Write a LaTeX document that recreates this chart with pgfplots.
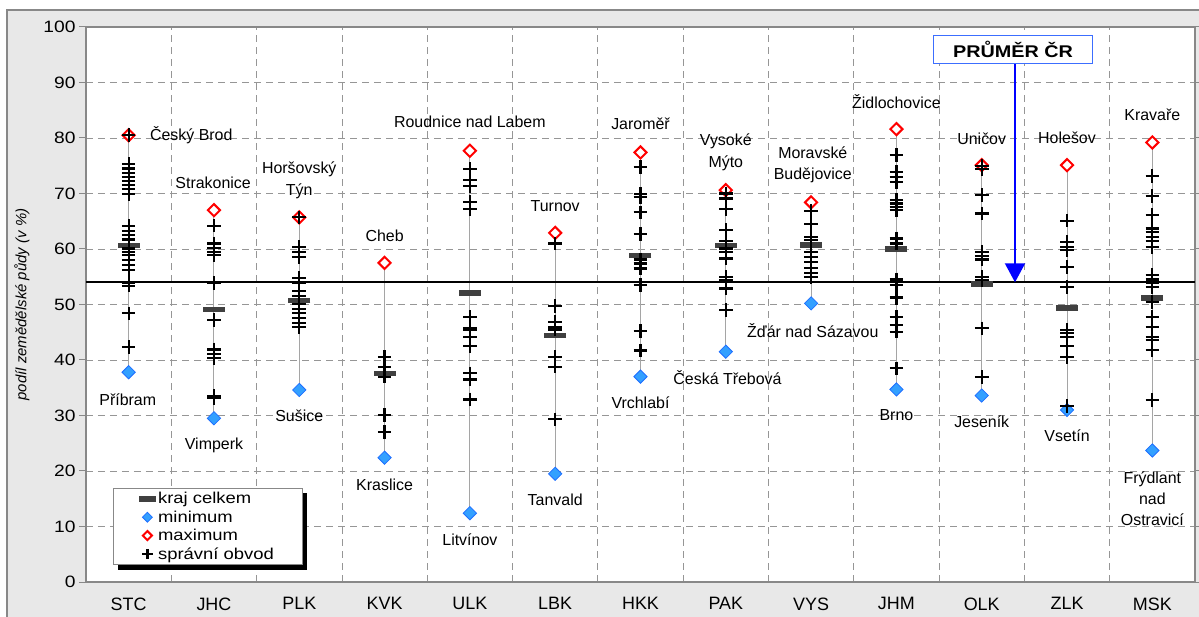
\documentclass[border=0pt]{standalone}
\usepackage{pgfplots}
\pgfplotsset{compat=1.18}
\usepackage{pgfplotstable}
\usepackage{fontspec}
\setmainfont{Liberation Sans}
\newfontfamily\widefont{Liberation Sans}[FakeStretch=1.17]
\usetikzlibrary{arrows.meta,shadows}

\definecolor{bgfig}{RGB}{232,232,232}
\definecolor{framec}{RGB}{136,136,136}
\definecolor{gridc}{RGB}{150,150,150}
\definecolor{krajc}{RGB}{64,64,64}
\definecolor{minfill}{RGB}{51,160,255}
\definecolor{mindraw}{RGB}{30,110,255}
\definecolor{rangec}{RGB}{165,165,165}
\definecolor{boxc}{RGB}{60,110,255}

% kraj celkem, minimum, maximum per region
\pgfplotstableread{
x  kraj  min   max
1  60.6  37.8  80.5
2  49.1  29.5  67.0
3  50.7  34.6  65.7
4  37.6  22.4  57.5
5  52.1  12.4  77.7
6  44.4  19.5  62.9
7  58.8  37.0  77.4
8  60.6  41.5  70.6
9  60.7  50.2  68.4
10 60.0  34.7  81.6
11 53.7  33.6  75.1
12 49.4  31.0  75.1
13 51.2  23.7  79.2
}\regions

% spravni obvody
\pgfplotstableread{
x y
1 80.5
1 75.3
1 74.5
1 73.7
1 73.0
1 72.3
1 71.5
1 70.8
1 69.9
1 64.1
1 63.3
1 62.5
1 61.7
1 60.1
1 59.5
1 58.9
1 58.0
1 57.1
1 56.2
1 53.9
1 53.4
1 48.4
1 42.3
2 64.2
2 61.0
2 60.2
2 59.5
2 58.9
2 53.9
2 47.2
2 41.9
2 41.1
2 40.3
2 33.5
2 33.1
3 65.7
3 60.4
3 59.5
3 58.6
3 54.8
3 53.9
3 52.5
3 51.5
3 50.1
3 49.2
3 48.4
3 47.5
3 46.7
3 45.9
4 40.5
4 38.7
4 37.0
4 30.1
4 27.0
5 74.4
5 72.4
5 71.4
5 68.5
5 67.2
5 47.7
5 45.7
5 45.4
5 44.1
5 42.5
5 37.6
5 36.5
5 32.9
6 61.0
6 49.7
6 46.9
6 46.0
6 45.5
6 40.5
6 38.8
6 29.3
7 74.8
7 69.9
7 69.3
7 66.6
7 62.7
7 58.1
7 57.4
7 56.5
7 53.5
7 45.2
7 41.7
8 70.0
8 69.1
8 67.2
8 63.4
8 61.5
8 60.1
8 59.5
8 58.3
8 55.0
8 54.4
8 52.9
8 49.0
9 66.8
9 64.5
9 62.2
9 61.6
9 59.4
9 58.5
9 57.7
9 56.6
9 55.7
9 55.0
10 76.9
10 73.9
10 73.0
10 72.1
10 68.9
10 68.2
10 67.6
10 67.0
10 61.9
10 61.0
10 54.5
10 53.5
10 51.4
10 51.1
10 47.8
10 46.3
10 45.1
10 38.5
11 75.0
11 74.4
11 69.7
11 66.4
11 59.5
11 58.7
11 58.1
11 55.0
11 54.4
11 45.7
11 36.9
12 65.1
12 61.3
12 60.4
12 59.8
12 56.8
12 53.1
12 45.4
12 44.8
12 44.2
12 42.5
12 40.5
12 31.7
13 73.2
13 69.5
13 66.1
13 63.7
13 63.0
13 62.2
13 61.4
13 60.4
13 55.3
13 54.5
13 53.9
13 53.1
13 50.4
13 47.8
13 46.0
13 44.2
13 43.6
13 41.8
13 32.8
}\pluses

\begin{document}
\begin{tikzpicture}
\path[use as bounding box] (-86bp,-35bp) rectangle (1113bp,582bp);
\fill[white] (-86bp,-35bp) rectangle (1113bp,582bp);
\filldraw[fill=bgfig, draw=framec, line width=1.5bp] (-79bp,-60bp) rectangle (1140bp,572bp);
\begin{axis}[
  scale only axis, width=1109bp, height=555bp,
  xmin=0.5, xmax=13.5, ymin=0, ymax=100,
  axis background/.style={fill=white},
  axis line style={framec, line width=1.5bp},
  xtick={1,...,13},
  xticklabels={STC,JHC,PLK,KVK,ULK,LBK,HKK,PAK,VYS,JHM,OLK,ZLK,MSK},
  major x tick style={draw=none},
  minor xtick={1.5,2.5,...,12.5},
  minor x tick style={draw=none},
  xminorgrids, ymajorgrids,
  grid style={gridc, dash pattern=on 7bp off 5bp, line width=0.8bp},
  ytick={0,10,...,100},
  y tick style={framec, line width=1bp},
  tick align=outside, major tick length=7bp,
  /pgf/number format/assume math mode=true,
  xticklabel style={font=\fontsize{18}{20}\selectfont, yshift=-5bp},
  yticklabel style={font=\widefont\fontsize{16.5}{18}\selectfont},
  ylabel={podíl zemědělské půdy (v \%)},
  every axis y label/.style={at={(axis description cs:-0.0577,0.5)}, rotate=90, anchor=center,
    font=\itshape\fontsize{15}{17}\selectfont},
  legend style={at={(0.0243,0.169)}, anchor=north west, draw=framec, fill=white,
    font=\widefont\fontsize{15.8}{16}\selectfont, row sep=0.5bp,
    inner xsep=26bp, inner ysep=1.5bp, nodes={inner sep=0.25em},
    drop shadow={shadow xshift=5bp, shadow yshift=-5bp, fill=black, opacity=1}},
  legend cell align=left,
  legend image code/.code={\draw[#1] plot coordinates {(0.25cm,0cm)};},
  legend image post style={every mark/.append style={scale=0.75}},
  clip=false,
]
% range lines min-max
\addplot[rangec, line width=1bp, forget plot, unbounded coords=jump] coordinates {
 (1,37.8) (1,80.5) (1,nan)
 (2,29.5) (2,67.0) (2,nan)
 (3,34.6) (3,65.7) (3,nan)
 (4,22.4) (4,57.5) (4,nan)
 (5,12.4) (5,77.7) (5,nan)
 (6,19.5) (6,62.9) (6,nan)
 (7,37.0) (7,77.4) (7,nan)
 (8,41.5) (8,70.6) (8,nan)
 (9,50.2) (9,68.4) (9,nan)
 (10,34.7) (10,81.6) (10,nan)
 (11,33.6) (11,75.1) (11,nan)
 (12,31.0) (12,75.1) (12,nan)
 (13,23.7) (13,79.2)
};
% prumer CR
\addplot[black, line width=2bp, forget plot] coordinates {(0.5,54) (13.5,54)};

\addplot[only marks, mark=-, mark size=11bp, mark options={krajc, line width=5.5bp}]
  table[x=x, y=kraj] {\regions};
\addplot[only marks, mark=square*, mark size=4.7bp,
  mark options={rotate=45, fill=minfill, draw=mindraw, line width=0.8bp}]
  table[x=x, y=min] {\regions};
\addplot[only marks, mark=square*, mark size=4.3bp,
  mark options={rotate=45, fill=white, draw=red, line width=2bp}]
  table[x=x, y=max] {\regions};
\addplot[only marks, mark=+, mark size=6.8bp, mark options={black, line width=2.2bp}]
  table[x=x, y=y] {\pluses};
\legend{kraj celkem, minimum, maximum, správní obvod}

\begin{scope}[every node/.style={font=\fontsize{16}{21.5}\selectfont, align=center}]
\node[anchor=west] at (axis cs:1.21,80.5) {Český Brod};
\node at (axis cs:0.99,32.8) {Příbram};
\node at (axis cs:1.99,71.9) {Strakonice};
\node at (axis cs:2.0,24.7) {Vimperk};
\node at (axis cs:3.0,72.4) {Horšovský\\Týn};
\node at (axis cs:3.0,29.9) {Sušice};
\node at (axis cs:4.0,62.3) {Cheb};
\node at (axis cs:4.0,17.5) {Kraslice};
\node at (axis cs:5.0,82.9) {Roudnice nad Labem};
\node at (axis cs:5.0,7.6) {Litvínov};
\node at (axis cs:6.0,67.7) {Turnov};
\node at (axis cs:6.0,14.8) {Tanvald};
\node at (axis cs:7.0,82.5) {Jaroměř};
\node at (axis cs:7.0,32.3) {Vrchlabí};
\node at (axis cs:8.02,36.8) {Česká Třebová};
\node at (axis cs:8.0,77.4) {Vysoké\\Mýto};
\node at (axis cs:9.02,75.2) {Moravské\\Budějovice};
\node at (axis cs:9.02,45.3) {Žďár nad Sázavou};
\node at (axis cs:10.0,86.5) {Židlochovice};
\node at (axis cs:10.0,30.0) {Brno};
\node at (axis cs:11.0,79.9) {Uničov};
\node at (axis cs:11.0,28.8) {Jeseník};
\node at (axis cs:12.0,80.1) {Holešov};
\node at (axis cs:12.0,26.3) {Vsetín};
\node at (axis cs:13.0,84.1) {Kravaře};
\node at (axis cs:13.0,15.0) {Frýdlant\\nad\\Ostravicí};
\end{scope}

\draw[blue, line width=2bp, -{Triangle[width=20bp,length=19bp]}]
  (axis cs:11.39,93.3) -- (axis cs:11.39,54);
\node[draw=boxc, line width=1.5bp, fill=white, minimum width=159bp, minimum height=28bp,
  inner sep=0pt, font=\widefont\bfseries\fontsize{17}{20}\selectfont]
  at (axis cs:11.367,95.9) {PRŮMĚR ČR};
\end{axis}
\end{tikzpicture}
\end{document}
